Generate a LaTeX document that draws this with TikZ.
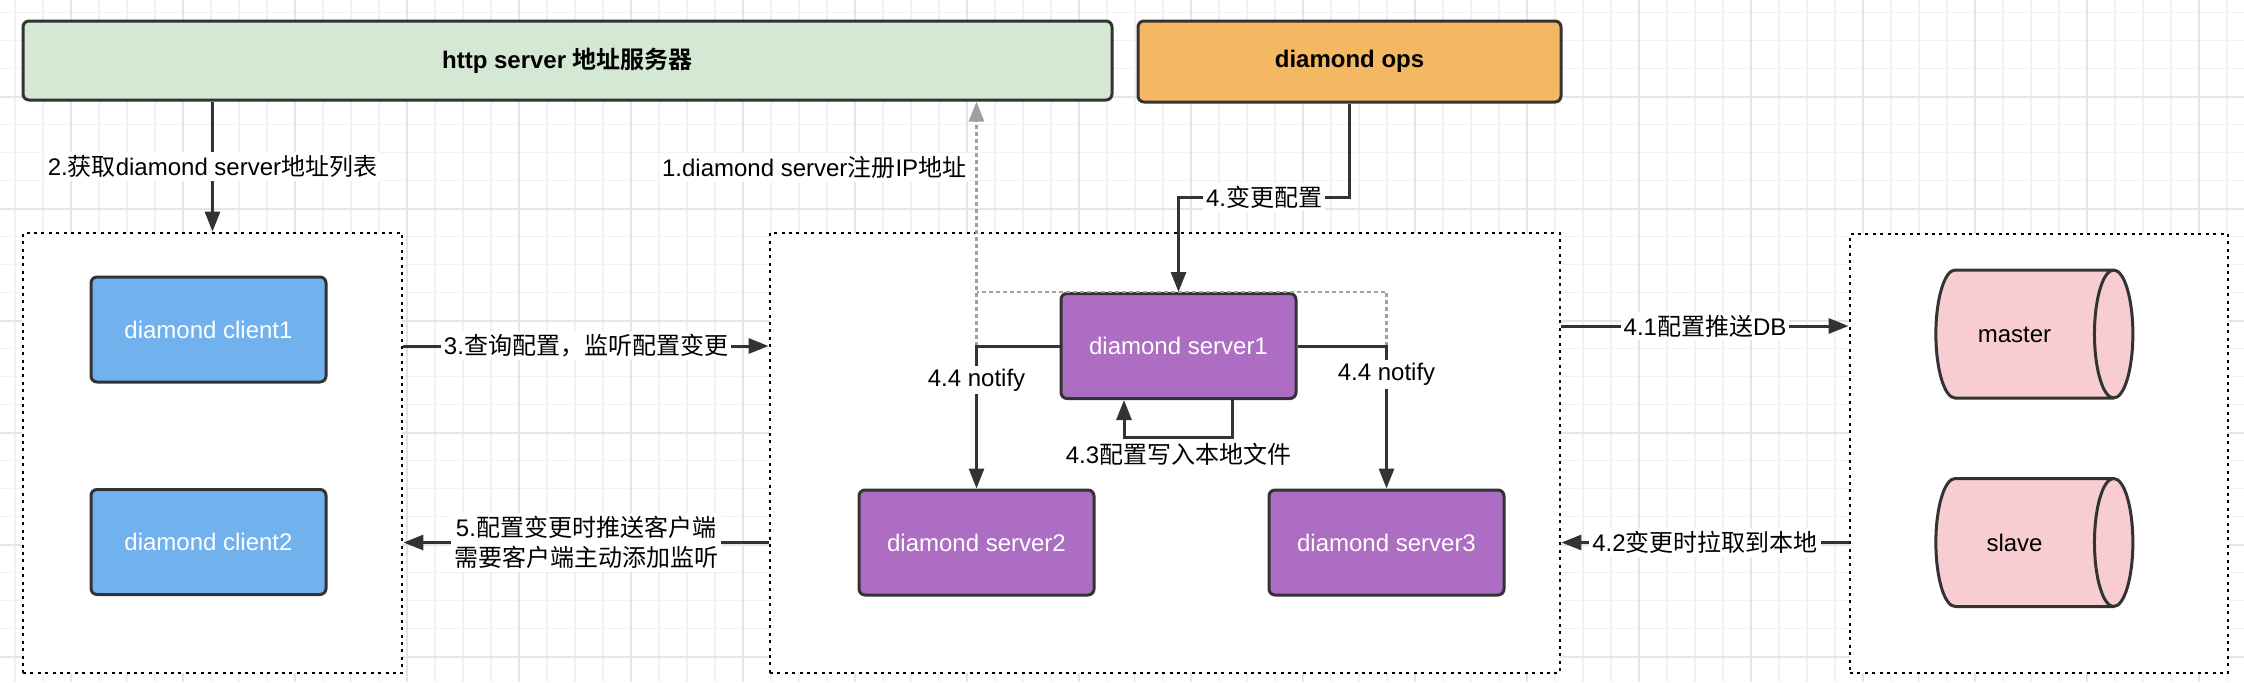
\documentclass[tikz,border=0pt]{standalone}
\usepackage{fontspec}
\setmainfont{Liberation Sans}
\newfontfamily\cjk{Noto Sans CJK SC}[BoldFont={Noto Sans CJK SC Bold}]
\usetikzlibrary{arrows.meta,shapes.geometric,calc}

\definecolor{edge}{HTML}{333333}
\definecolor{httpgreen}{HTML}{D5E8D4}
\definecolor{opsorange}{HTML}{F4B862}
\definecolor{clientblue}{HTML}{70B1EE}
\definecolor{serverpurple}{HTML}{AD6DC2}
\definecolor{dbpink}{HTML}{F7CDD1}
\definecolor{regray}{HTML}{A0A0A0}
\definecolor{gridlo}{HTML}{F1F1F3}
\definecolor{gridhi}{HTML}{E5E5E9}

\tikzset{
  txt/.style={font=\fontsize{12}{15}\selectfont},
  box/.style={txt, draw=edge, line width=1.5pt, rounded corners=3pt, minimum width=117.5pt, minimum height=52.5pt, text=white},
  topbox/.style={box, text=black, font=\fontsize{12}{15}\selectfont\bfseries},
  group/.style={draw=black, fill=white, line width=1.4pt, dash pattern=on 1.5pt off 2.2pt, inner sep=0pt},
  db/.style={txt, cylinder, draw=edge, line width=1.5pt, fill=dbpink, aspect=0.3, text height=8.5pt, text depth=0pt, inner xsep=0pt, inner ysep=27.75pt, minimum width=64pt, minimum height=98.5pt},
  conn/.style={draw=edge, line width=1.5pt, -{Triangle[length=10pt,width=7.5pt]}},
  reg/.style={draw=regray, line width=1.3pt, dash pattern=on 2pt off 1.5pt, -{Triangle[length=10pt,width=7.5pt]}},
  lbl/.style={txt, fill=white, inner sep=1.5pt, text=black},
}

\begin{document}
\begin{tikzpicture}[x=0.5pt,y=-0.5pt]
 \useasboundingbox (0,0) rectangle (2244,682);

 % canvas grid
 \foreach \gx in {15,43,...,2243} \draw[gridlo, line width=0.6pt] (\gx,0) -- (\gx,682);
 \foreach \gy in {12.7,40.7,...,682} \draw[gridlo, line width=0.6pt] (0,\gy) -- (2244,\gy);
 \foreach \gx in {71,183,...,2243} \draw[gridhi, line width=0.9pt] (\gx,0) -- (\gx,682);
 \foreach \gy in {-15.3,96.7,...,682} \draw[gridhi, line width=0.9pt] (0,\gy) -- (2244,\gy);

 % top
 \node[topbox, fill=httpgreen, minimum width=544.5pt, minimum height=39.5pt] (http) at (567.5,60.5) {http server {\cjk 地址服务器}};
 \node[topbox, fill=opsorange, minimum width=211.5pt, minimum height=40.5pt] (ops) at (1349.5,61.5) {diamond ops};

 % groups
 \node[group, minimum width=189.5pt, minimum height=220pt] (clients) at (212.5,453) {};
 \node[group, minimum width=395pt, minimum height=220pt] (servers) at (1165,453) {};
 \node[group, minimum width=189pt, minimum height=219.5pt] (dbs) at (2039,453.5) {};

 \node[box, fill=clientblue] (client1) at (208.5,329.5) {diamond client1};
 \node[box, fill=clientblue] (client2) at (208.5,542) {diamond client2};

 \node[box, fill=serverpurple] (server1) at (1178.5,346) {diamond server1};
 \node[box, fill=serverpurple] (server2) at (976.5,542.5) {diamond server2};
 \node[box, fill=serverpurple] (server3) at (1386.5,542.5) {diamond server3};

 \node[db] (master) at (2014.5,334) {master};
 \node[db] (slave) at (2014.5,542.5) {slave};

 % 1. register
 \coordinate (lnotify) at (server1.west -| server2.north);
 \coordinate (rnotify) at (server1.east -| server3.north);
 \draw[reg] (lnotify) -- node[lbl, pos=0.73, left, xshift=-3pt] (l1) {1.diamond server{\cjk 注册}IP{\cjk 地址}} (lnotify |- http.south);
 \draw[reg, -] (rnotify) |- (lnotify |- server1.north);

 % 2. address list
 \draw[conn] (clients.north |- http.south) -- node[lbl] (l2) {2.{\cjk 获取}diamond server{\cjk 地址列表}} (clients.north);

 % 3. / 5. client <-> servers
 \draw[conn] (clients.east |- server1) -- node[lbl] (l3) {3.{\cjk 查询配置，监听配置变更}} (servers.west |- server1);
 \draw[conn] (servers.west |- server2) -- node[lbl, align=center] (l5) {5.{\cjk 配置变更时推送客户端}\\{\cjk 需要客户端主动添加监听}} (clients.east |- server2);

 % 4. change
 \coordinate (opsturn) at (1349.5,197);
 \draw[conn] (ops.south) -- (opsturn) -| node[lbl, pos=0.25] (l4) {4.{\cjk 变更配置}} (server1.north);

 % 4.1 / 4.2 db
 \draw[conn] ($(servers.east |- master)+(0,-8)$) -- node[lbl] (l41) {4.1{\cjk 配置推送}DB} ($(dbs.west |- master)+(0,-8)$);
 \draw[conn] (dbs.west |- slave) -- node[lbl] (l42) {4.2{\cjk 变更时拉取到本地}} (servers.east |- slave);

 % 4.3 local file
 \coordinate (loopa) at ([xshift=26.75pt]server1.south);
 \coordinate (loopb) at ([xshift=-27.25pt]server1.south);
 \draw[conn] (loopa) -- ++(0,37) -| (loopb);
 \node[lbl, anchor=north] (l43) at (1178.5,440) {4.3{\cjk 配置写入本地文件}};

 % 4.4 notify
 \draw[conn] (server1.west) -| node[lbl, pos=0.62] (l44a) {4.4 notify} (server2.north);
 \draw[conn] (server1.east) -| node[lbl, pos=0.6] (l44b) {4.4 notify} (server3.north);
\end{tikzpicture}
\end{document}
